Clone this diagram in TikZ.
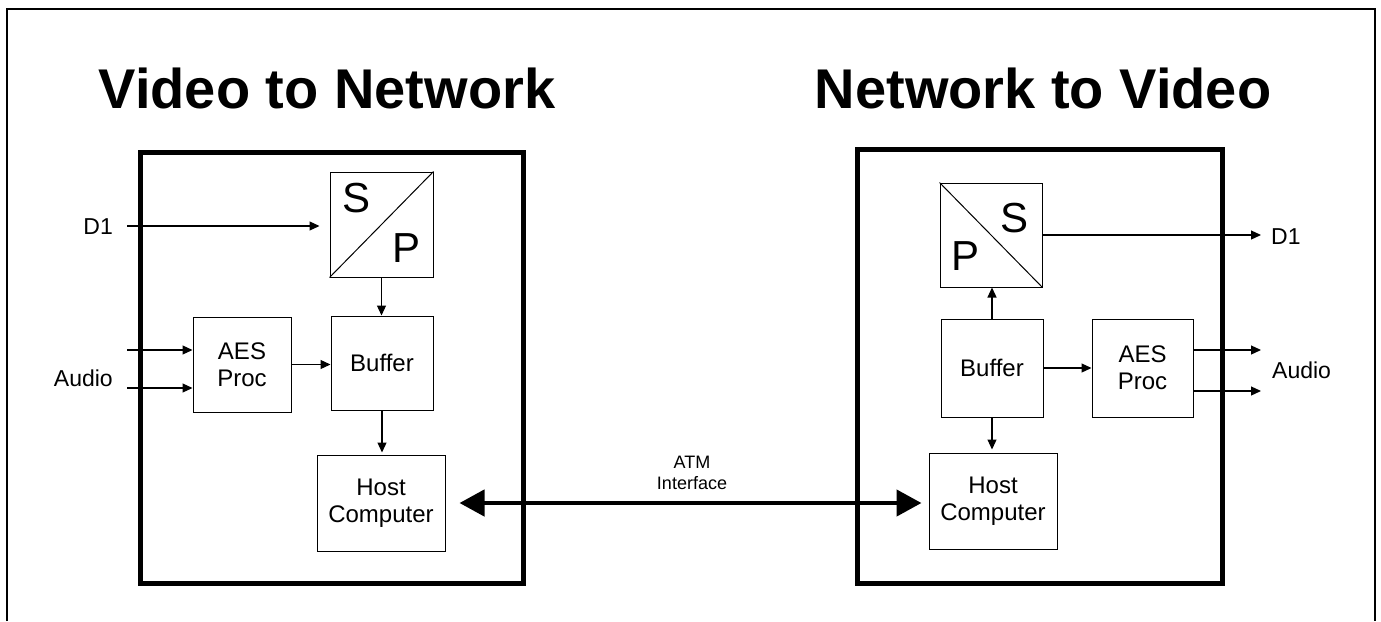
\documentclass[tikz,border=0pt]{standalone}
\usepackage{fontspec}
\setmainfont{Liberation Sans}
\usetikzlibrary{arrows.meta}
\begin{document}
\begin{tikzpicture}[x=1pt,y=-1pt,
  encl/.style={draw, line width=5pt, inner sep=0pt},
  blk/.style={draw, line width=1pt, inner sep=0pt, align=center, font=\fontsize{24}{27}\selectfont},
  spbox/.style={draw, line width=1pt, inner sep=0pt, minimum width=#1},
  letter/.style={font=\fontsize{42}{46}\selectfont, inner sep=0pt},
  lbl/.style={font=\fontsize{23}{26}\selectfont, inner sep=0pt},
  ttl/.style={font=\fontsize{56}{60}\selectfont\bfseries, inner sep=0pt},
  arr/.style={-{Triangle[length=10pt,width=9pt]}, line width=1.2pt},
  atm/.style={{Triangle[length=25pt,width=26pt]}-{Triangle[length=25pt,width=26pt]}, line width=4.5pt}
]
\useasboundingbox (0,0) rectangle (1381,621);
% outer frame (open at bottom)
\draw[line width=2pt] (7,621) -- (7,9) -- (1375,9) -- (1375,621);

% titles
\node[ttl, anchor=base] (t1) at (327,108) {Video to Network};
\node[ttl, anchor=base] (t2) at (1043,108) {Network to Video};

% enclosures
\node[encl, minimum width=383pt, minimum height=431pt] (encL) at (331.5,367.5) {};
\node[encl, minimum width=365pt, minimum height=434pt] (encR) at (1039.5,366) {};

% ---------- left: Video to Network ----------
\node[spbox=103pt, minimum height=105pt] (spL) at (381.5,224.5) {};
\draw[line width=1pt] (spL.south west) -- (spL.north east);
\node[letter] (sL) at (357,198) {S};
\node[letter] (pL) at (407,248) {P};

\node[blk, minimum width=98pt, minimum height=95pt] (aesL) at (242,364.5) {AES\\Proc};
\node[blk, minimum width=102pt, minimum height=94pt] (bufL) at (382,363) {Buffer};
\node[blk, minimum width=128pt, minimum height=96pt] (hostL) at (381,503) {Host\\Computer};

\node[lbl, anchor=base east] (d1L) at (113,234) {D1};
\node[lbl, anchor=base east] (audL) at (113,386) {Audio};
\coordinate (d1Ls) at (127,226);
\coordinate (auL1) at (127,350);
\coordinate (auL2) at (127,388);

\draw[arr, shorten >=10pt] (d1Ls) -- (d1Ls -| spL.west);
\draw[arr] (auL1) -- (auL1 -| aesL.west);
\draw[arr] (auL2) -- (auL2 -| aesL.west);
\draw[arr] (aesL.east) -- (aesL.east -| bufL.west);
\draw[arr] (spL.south) -- (spL.south |- bufL.north);
\draw[arr, shorten >=2pt] (bufL.south) -- (bufL.south |- hostL.north);

% ---------- right: Network to Video ----------
\node[spbox=102pt, minimum height=104pt] (spR) at (991,235) {};
\draw[line width=1pt] (spR.north west) -- (spR.south east);
\node[letter] (sR) at (1014,218) {S};
\node[letter] (pR) at (965,256) {P};

\node[blk, minimum width=102pt, minimum height=98pt] (bufR) at (992,368) {Buffer};
\node[blk, minimum width=101pt, minimum height=98pt] (aesR) at (1142.5,368) {AES\\Proc};
\node[blk, minimum width=128pt, minimum height=96pt] (hostR) at (993,501) {Host\\Computer};

\node[lbl, anchor=base west] (d1R) at (1271,244) {D1};
\node[lbl, anchor=base west] (audR) at (1272,378) {Audio};
\coordinate (auR1) at (1261,350);
\coordinate (auR2) at (1261,391);

\draw[arr, shorten >=10pt] (spR.east) -- (spR.east -| d1R.west);
\draw[arr] (aesR.east |- auR1) -- (auR1);
\draw[arr] (aesR.east |- auR2) -- (auR2);
\draw[arr] (bufR.east) -- (bufR.east -| aesR.west);
\draw[arr] (bufR.north) -- (bufR.north |- spR.south);
\draw[arr, shorten >=3pt] (bufR.south) -- (bufR.south |- hostR.north);

% ---------- ATM link ----------
\draw[atm, shorten <=14pt, shorten >=7pt] (hostL.east) -- (hostL.east -| hostR.west);
\node[font=\fontsize{18}{21}\selectfont, align=center, inner sep=0pt, anchor=south] (atmlbl) at (692,490) {ATM\\Interface};
\end{tikzpicture}
\end{document}
